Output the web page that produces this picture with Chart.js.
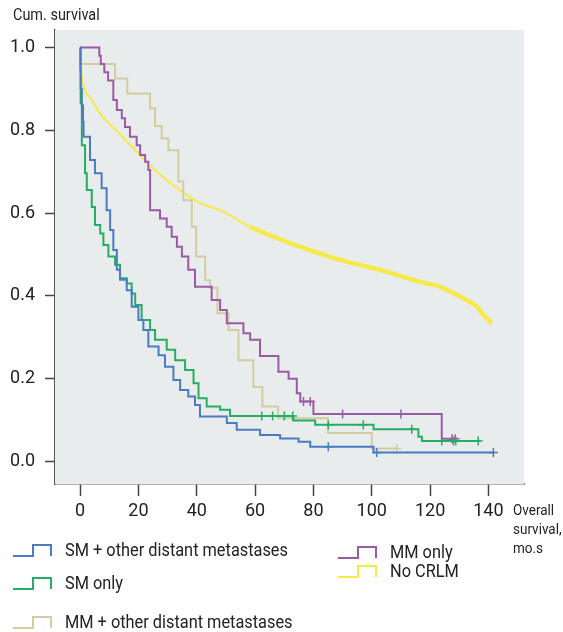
<!DOCTYPE html>
<html>
<head>
<meta charset="utf-8">
<script src="https://cdn.jsdelivr.net/npm/chart.js@4.4.1/dist/chart.umd.min.js"></script>
<style>
  html, body { margin: 0; padding: 0; background: #fff; }
  #wrap { width: 563px; height: 632px; }
</style>
</head>
<body>
<div id="wrap"><canvas id="km" width="563" height="632"></canvas></div>
<script>
// ticks
const xTicks = [0, 20, 40, 60, 80, 100, 120, 140];
const yTicks = [0, 0.2, 0.4, 0.6, 0.8, 1.0];

// SM + other distant metastases
const smOtherT = [0, 0.2, 0.6, 1.0, 1.2, 3.4, 5.1, 7.4, 9.1, 10.3, 11.4, 12.6, 13.7, 16.0, 17.7, 20.0, 21.7, 23.4, 26.9, 29.1, 32.0, 34.3, 37.1, 39.4, 41.1, 50.3, 53.7, 61.7, 68.6, 74.9, 78.9, 100.6, 141.7];
const smOtherS = [1.0, 0.90, 0.86, 0.82, 0.784, 0.728, 0.696, 0.66, 0.607, 0.559, 0.511, 0.463, 0.439, 0.414, 0.374, 0.342, 0.318, 0.278, 0.257, 0.229, 0.197, 0.173, 0.157, 0.137, 0.109, 0.093, 0.077, 0.064, 0.056, 0.048, 0.036, 0.022, 0.022];
const smOtherCensT = [85.1, 101.7, 141.7];
const smOtherCensS = [0.036, 0.022, 0.022];

// SM only
const smOnlyT = [0, 0.1, 0.2, 0.6, 1.7, 2.3, 4.0, 5.1, 6.9, 8.0, 9.7, 12.0, 13.7, 16.0, 17.7, 18.9, 21.1, 24.0, 25.7, 29.7, 32.6, 36.0, 38.9, 40.6, 43.4, 48.0, 51.4, 73.1, 80.6, 100.6, 116.0, 117.2, 137.0];
const smOnlyS = [1.0, 0.945, 0.865, 0.764, 0.696, 0.656, 0.615, 0.571, 0.551, 0.523, 0.495, 0.475, 0.443, 0.43, 0.406, 0.378, 0.342, 0.318, 0.294, 0.27, 0.245, 0.221, 0.189, 0.153, 0.133, 0.125, 0.11, 0.099, 0.089, 0.078, 0.06, 0.05, 0.05];
const smOnlyCensT = [62.3, 66.0, 70.0, 72.9, 85.1, 97.1, 113.7, 124.0, 128.0, 128.8, 136.5];
const smOnlyCensS = [0.11, 0.11, 0.11, 0.11, 0.089, 0.089, 0.078, 0.05, 0.05, 0.05, 0.05];

// MM + other distant metastases
const mmOtherT = [0, 0.1, 12.0, 16.2, 24.0, 25.7, 28.0, 30.3, 33.7, 35.4, 38.3, 39.8, 42.9, 44.6, 47.1, 50.9, 54.3, 59.4, 62.5, 67.9, 85.0, 100.0, 108.6];
const mmOtherS = [1.0, 0.96, 0.925, 0.889, 0.853, 0.81, 0.78, 0.752, 0.676, 0.631, 0.567, 0.495, 0.438, 0.42, 0.358, 0.318, 0.245, 0.18, 0.133, 0.105, 0.069, 0.032, 0.032];
const mmOtherCensT = [108.6];
const mmOtherCensS = [0.032];

// MM only
const mmOnlyT = [0, 6.6, 7.1, 8.3, 9.6, 11.4, 12.6, 14.3, 15.4, 17.1, 19.4, 20.6, 22.3, 23.4, 24.0, 27.4, 29.7, 31.4, 33.2, 34.9, 37.1, 39.4, 45.1, 48.0, 50.3, 56.0, 58.3, 61.7, 68.0, 71.5, 74.3, 75.5, 80.0, 124.0, 128.6];
const mmOnlyS = [1.0, 0.98, 0.96, 0.94, 0.92, 0.873, 0.849, 0.829, 0.808, 0.784, 0.764, 0.74, 0.724, 0.704, 0.607, 0.587, 0.567, 0.543, 0.519, 0.495, 0.463, 0.422, 0.39, 0.366, 0.334, 0.31, 0.294, 0.255, 0.217, 0.2, 0.165, 0.145, 0.115, 0.055, 0.055];
const mmOnlyCensT = [76.6, 78.9, 90.0, 110.0, 127.5, 128.6];
const mmOnlyCensS = [0.145, 0.145, 0.115, 0.115, 0.055, 0.055];

// No CRLM
const noCrlmT = [0, 0.3, 3.4, 6.9, 13.7, 20.6, 26.3, 34.3, 41.1, 48.0, 58.3, 75.4, 89.1, 102.8, 116.6, 123.4, 130.3, 136.0, 138.3, 141.1];
const noCrlmS = [1.0, 0.945, 0.88, 0.84, 0.79, 0.74, 0.70, 0.655, 0.624, 0.607, 0.567, 0.519, 0.487, 0.463, 0.434, 0.422, 0.398, 0.374, 0.354, 0.334];

const BLUE = '#4a7bc3', GREEN = '#25ad62', BEIGE = '#d3cca2', PURPLE = '#9a5aa6', YELLOW = '#f6e94a';
const FONT = "Roboto, 'Liberation Sans', sans-serif";

function pts(t, s){ return t.map((v,i)=>({x:v, y:s[i]})); }

function kmSet(label, t, s, color){
  return { type:'line', label, data: pts(t,s), borderColor: color, borderWidth: 2,
    stepped: true, pointRadius: 0, fill: false };
}
function censSet(t, s, color){
  return { type:'scatter', label:'', data: pts(t,s), borderColor: color, backgroundColor: color,
    pointStyle: 'cross', pointRadius: 4.5, borderWidth: 1.5, showLine: false };
}

const legendItems = [
  { label:'SM + other distant metastases', color: BLUE,  x: 13,  y: 551 },
  { label:'SM only',                        color: GREEN, x: 13,  y: 584 },
  { label:'MM + other distant metastases',  color: BEIGE, x: 13,  y: 623 },
  { label:'MM only',                        color: PURPLE,x: 338, y: 553 },
  { label:'No CRLM',                        color: YELLOW,x: 338, y: 572 }
];

// narrow text like the condensed face in the original
function narrowText(ctx, txt, x, y, sx){
  ctx.save();
  ctx.translate(x, y);
  ctx.scale(sx, 1);
  ctx.fillText(txt, 0, 0);
  ctx.restore();
}

const bgPlugin = {
  id: 'bg',
  beforeDatasetsDraw(chart){
    const {ctx, chartArea:a} = chart;
    ctx.save();
    ctx.fillStyle = '#e9ecec';
    ctx.fillRect(a.left, a.top, a.right - a.left, a.bottom - a.top);
    ctx.restore();
  }
};

const textPlugin = {
  id: 'texts',
  afterDraw(chart){
    const ctx = chart.ctx;
    ctx.save();
    ctx.fillStyle = '#222';
    ctx.textBaseline = 'middle';
    ctx.font = '17px ' + FONT;
    narrowText(ctx, 'Cum. survival', 13, 16, 0.85);
    ctx.font = '15px ' + FONT;
    narrowText(ctx, 'Overall', 513, 511, 0.9);
    narrowText(ctx, 'survival,', 513, 530, 0.9);
    narrowText(ctx, 'mo.s', 513, 549, 0.9);
    ctx.font = '19px ' + FONT;
    legendItems.forEach(it=>{
      const x0 = it.x, yb = it.y + 5, yt = it.y - 6;
      ctx.strokeStyle = it.color;
      ctx.lineWidth = 2;
      ctx.beginPath();
      ctx.moveTo(x0, yb);
      ctx.lineTo(x0 + 20, yb);
      ctx.lineTo(x0 + 20, yt);
      ctx.lineTo(x0 + 38, yt);
      ctx.lineTo(x0 + 38, yb);
      ctx.stroke();
      ctx.fillStyle = '#222';
      narrowText(ctx, it.label, x0 + 52, it.y, 0.86);
    });
    ctx.restore();
  }
};

const yellowSet = {
  type:'line', label:'No CRLM', data: pts(noCrlmT, noCrlmS), borderColor: YELLOW,
  borderWidth: 2, pointRadius: 0, fill: false, cubicInterpolationMode: 'monotone',
  segment: { borderWidth: c => c.p0.parsed.x >= 55 ? 4.5 : 2 }
};

new Chart(document.getElementById('km'), {
  data: {
    datasets: [
      kmSet('SM + other distant metastases', smOtherT, smOtherS, BLUE),
      censSet(smOtherCensT, smOtherCensS, BLUE),
      kmSet('SM only', smOnlyT, smOnlyS, GREEN),
      censSet(smOnlyCensT, smOnlyCensS, GREEN),
      kmSet('MM only', mmOnlyT, mmOnlyS, PURPLE),
      censSet(mmOnlyCensT, mmOnlyCensS, PURPLE),
      kmSet('MM + other distant metastases', mmOtherT, mmOtherS, BEIGE),
      censSet(mmOtherCensT, mmOtherCensS, BEIGE),
      yellowSet
    ]
  },
  options: {
    responsive: false,
    animation: false,
    layout: { padding: { top: 30, right: 39, bottom: 108, left: 0 } },
    plugins: { legend: { display: false }, tooltip: { enabled: false } },
    scales: {
      x: {
        type: 'linear', min: -8.6, max: 152.2,
        afterBuildTicks: s => { s.ticks = xTicks.map(v => ({ value: v })); },
        afterFit: s => { s.height = 40; },
        grid: { drawOnChartArea: false, drawTicks: true, tickLength: 12, tickColor: '#444', tickWidth: 1.5 },
        border: { display: true, color: '#666', width: 1.5 },
        ticks: { color: '#222', font: { family: FONT, size: 18 }, padding: 5, maxRotation: 0, autoSkip: false, callback: v => v }
      },
      y: {
        type: 'linear', min: -0.054, max: 1.042,
        afterBuildTicks: s => { s.ticks = yTicks.map(v => ({ value: v })); },
        afterFit: s => { s.width = 55; },
        grid: { drawOnChartArea: false, drawTicks: true, tickLength: 10, tickColor: '#444', tickWidth: 1.5 },
        border: { display: true, color: '#555', width: 1.5 },
        ticks: { color: '#222', font: { family: FONT, size: 18 }, padding: 10, autoSkip: false, callback: v => v.toFixed(1) }
      }
    }
  },
  plugins: [bgPlugin, textPlugin]
});
</script>
</body>
</html>
